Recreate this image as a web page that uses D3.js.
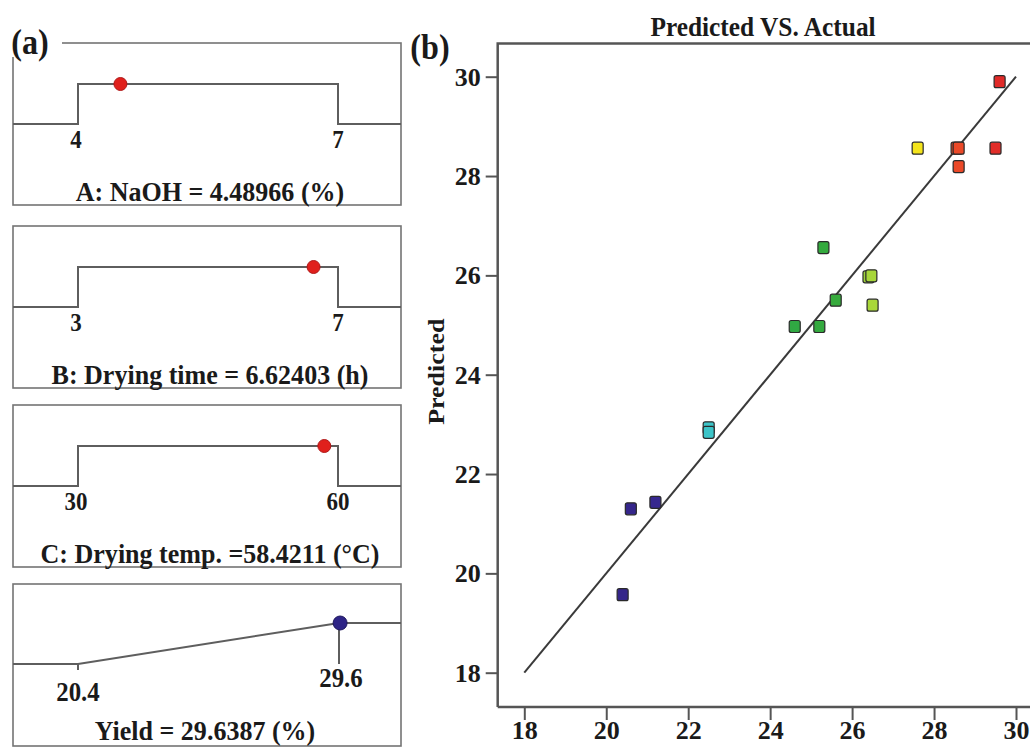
<!DOCTYPE html>
<html>
<head>
<meta charset="utf-8">
<script src="https://cdn.jsdelivr.net/npm/d3@7"></script>
<style>
  body { margin: 0; background: #fff; }
  text { font-family: "Liberation Serif", "Times New Roman", serif; font-weight: bold; fill: #1a1a1a; }
</style>
</head>
<body>
<script>
// panel (a) - factor settings
const factorTitles = ["A: NaOH = 4.48966 (%)", "B: Drying time = 6.62403 (h)", "C: Drying temp. =58.4211 (°C)"];
const factorLow = [4, 3, 30];
const factorHigh = [7, 7, 60];
const factorOpt = [4.48966, 6.62403, 58.4211];

const yieldTitle = "Yield = 29.6387 (%)";
const yieldLow = 20.4;
const yieldHigh = 29.6;
const yieldOpt = 29.6387;

// panel (b) - predicted vs actual
const actual = [29.6, 27.6, 28.55, 28.6, 28.6, 29.5, 25.3, 26.4, 26.47, 25.6, 26.5, 24.6, 25.2, 22.5, 22.5, 20.6, 21.2, 20.4];
const predicted = [29.9, 28.56, 28.56, 28.56, 28.19, 28.56, 26.56, 25.97, 25.99, 25.5, 25.4, 24.97, 24.97, 22.93, 22.84, 21.3, 21.43, 19.57];
const axisTicks = [18, 20, 22, 24, 26, 28, 30];

const width = 1030;
const height = 747;

const svg = d3.select("body").append("svg")
  .attr("width", width)
  .attr("height", height);

const boxColor = "#747474";
const lineColor = "#5e5e5e";

// text helper, sx squeezes glyphs a bit like the scanned figure
function label(g, x, y, txt, size, sx) {
  return g.append("text")
    .attr("transform", `translate(${x},${y}) scale(${sx || 1},1)`)
    .attr("dy", "0.35em")
    .attr("text-anchor", "middle")
    .attr("font-size", size)
    .text(txt);
}

// ---------- panel (a) ----------
const boxLeft = 13, boxRight = 401;
const boxTops = [43, 226, 405, 584];
const boxH = 162;
const pa = svg.append("g");

function drawBox(top) {
  pa.append("rect")
    .attr("x", boxLeft).attr("y", top)
    .attr("width", boxRight - boxLeft).attr("height", boxH)
    .attr("fill", "none")
    .attr("stroke", boxColor)
    .attr("stroke-width", 1.6);
}

factorTitles.forEach((t, i) => {
  const top = boxTops[i];
  drawBox(top);
  const xs = d3.scaleLinear().domain([factorLow[i], factorHigh[i]]).range([78, 338]);
  const base = top + 81, hi = top + 41;
  const path = d3.path();
  path.moveTo(boxLeft, base);
  path.lineTo(xs(factorLow[i]), base);
  path.lineTo(xs(factorLow[i]), hi);
  path.lineTo(xs(factorHigh[i]), hi);
  path.lineTo(xs(factorHigh[i]), base);
  path.lineTo(boxRight, base);
  pa.append("path").attr("d", path.toString())
    .attr("fill", "none").attr("stroke", lineColor).attr("stroke-width", 2);
  pa.append("circle")
    .attr("cx", xs(factorOpt[i])).attr("cy", hi).attr("r", 6.5)
    .attr("fill", "#e0201c").attr("stroke", "#b01818").attr("stroke-width", 1);
  label(pa, xs(factorLow[i]) - 2, top + 96, factorLow[i], 25, 0.92);
  label(pa, xs(factorHigh[i]), top + 96, factorHigh[i], 25, 0.92);
  label(pa, 210, top + 148, t, 28, 0.93);
});

// yield desirability box
{
  const top = boxTops[3];
  drawBox(top);
  const xs = d3.scaleLinear().domain([yieldLow, yieldHigh]).range([78, 339]);
  const base = top + 80, hi = top + 39;
  const path = d3.path();
  path.moveTo(boxLeft, base);
  path.lineTo(xs(yieldLow), base);
  path.lineTo(xs(yieldHigh), hi);
  path.lineTo(boxRight, hi);
  pa.append("path").attr("d", path.toString())
    .attr("fill", "none").attr("stroke", lineColor).attr("stroke-width", 2);
  pa.append("line")
    .attr("x1", xs(yieldLow)).attr("x2", xs(yieldLow))
    .attr("y1", base).attr("y2", base + 6)
    .attr("stroke", lineColor).attr("stroke-width", 2);
  pa.append("line")
    .attr("x1", xs(yieldHigh)).attr("x2", xs(yieldHigh))
    .attr("y1", hi).attr("y2", base)
    .attr("stroke", lineColor).attr("stroke-width", 2);
  pa.append("circle")
    .attr("cx", xs(yieldOpt)).attr("cy", hi).attr("r", 7)
    .attr("fill", "#2e2486").attr("stroke", "#1e185e").attr("stroke-width", 1);
  label(pa, xs(yieldLow), top + 108, yieldLow, 27, 0.92);
  label(pa, xs(yieldHigh) + 2, top + 94, yieldHigh, 27, 0.92);
  label(pa, 205, top + 146, yieldTitle, 28, 0.93);
}

// "(a)" label sits over the box corner
pa.append("rect").attr("x", 0).attr("y", 15).attr("width", 62).attr("height", 42).attr("fill", "#fff");
label(pa, 30, 42, "(a)", 35, 0.92);

// ---------- panel (b) ----------
const pb = svg.append("g");
const x = d3.scaleLinear().domain([18, 30]).range([524.3, 1016]);
const y = d3.scaleLinear().domain([18, 30]).range([672.7, 76.7]);
const axLeft = 497.7, axBottom = 707, axTop = 43.5;

const color = d3.scaleLinear()
  .domain([20.4, 21.4, 22.5, 23.6, 25.6, 26.45, 27.6, 28.5, 29.6])
  .range(["#35268a", "#372890", "#3cc4c8", "#2aa84a", "#36aa3c", "#a6d63a", "#f4e41c", "#ec4c28", "#e02a28"]);

// frame: left, bottom, top
pb.append("path")
  .attr("d", `M${axLeft},${axBottom}V${axTop}H${width + 5}`)
  .attr("fill", "none").attr("stroke", "#555").attr("stroke-width", 2.5);
pb.append("line")
  .attr("x1", axLeft).attr("x2", width + 5)
  .attr("y1", axBottom).attr("y2", axBottom)
  .attr("stroke", "#555").attr("stroke-width", 2.5);

const yAxis = d3.axisLeft(y).tickValues(axisTicks).tickSize(12).tickSizeOuter(0).tickPadding(5);
const yg = pb.append("g").attr("transform", `translate(${axLeft},0)`).call(yAxis);
const xAxis = d3.axisBottom(x).tickValues(axisTicks).tickSize(13).tickSizeOuter(0).tickPadding(1);
const xg = pb.append("g").attr("transform", `translate(0,${axBottom})`).call(xAxis);
[yg, xg].forEach(g => {
  g.select(".domain").remove();
  g.selectAll(".tick line").attr("stroke", "#555").attr("stroke-width", 2);
  g.selectAll(".tick text")
    .attr("font-size", 26)
    .attr("font-family", "Liberation Serif, Times New Roman, serif")
    .attr("font-weight", "bold")
    .attr("fill", "#1a1a1a");
});

// 1:1 reference line
pb.append("line")
  .attr("x1", x(18)).attr("y1", y(18))
  .attr("x2", x(30)).attr("y2", y(30))
  .attr("stroke", "#3a3a3a").attr("stroke-width", 2);

// points
const pts = actual.map((a, i) => ({ a, p: predicted[i] }));
pb.selectAll("rect.pt")
  .data(pts)
  .enter()
  .append("rect")
  .attr("class", "pt")
  .attr("x", d => x(d.a) - 5.5)
  .attr("y", d => y(d.p) - 6)
  .attr("width", 11)
  .attr("height", 12)
  .attr("rx", 2)
  .attr("fill", d => color(d.a))
  .attr("stroke", "#2a2a2a")
  .attr("stroke-width", 1.2);

label(pb, 763, 27, "Predicted VS. Actual", 27, 0.94);
label(pb, 430, 47, "(b)", 35, 0.92);
pb.append("text")
  .attr("transform", `translate(436,${y(24) - 3}) rotate(-90) scale(1,0.92)`)
  .attr("text-anchor", "middle")
  .attr("dy", "0.35em")
  .attr("font-size", 26)
  .text("Predicted");
</script>
</body>
</html>
